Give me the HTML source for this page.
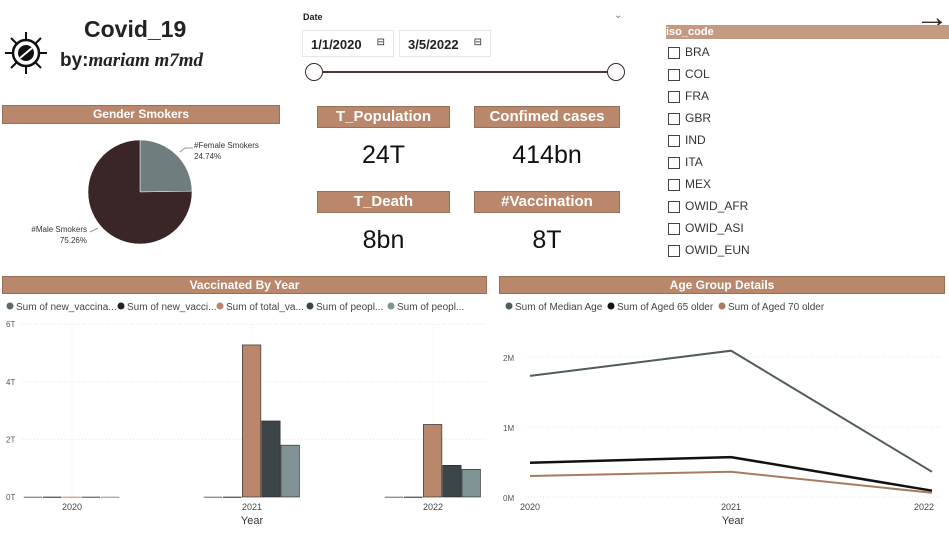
<!DOCTYPE html>
<html><head><meta charset="utf-8"><style>
body{margin:0;width:949px;height:535px;background:#fff;position:relative;overflow:hidden;font-family:"Liberation Sans",sans-serif;color:#222}
.a{position:absolute}
.hdr{position:absolute;background:#b9876b;color:#fff;font-weight:bold;text-align:center;border:1px solid #9a6f57;box-sizing:border-box}
.kpi{font-size:25px;text-align:center;color:#111}
.cb{position:absolute;left:668px;width:10px;height:10px;border:1px solid #444}
.cl{position:absolute;left:685px;font-size:12px;color:#333}
.dt{position:absolute;top:30px;height:27px;border:1px solid #e6e6e6;box-sizing:border-box;font-size:13px;font-weight:bold;padding:6px 8px}
</style></head><body>
<svg class="a" style="left:3px;top:30px" width="46" height="46" viewBox="0 0 46 46">
<g stroke="#111" stroke-width="2.5" fill="none"><circle cx="23" cy="23" r="13"/>
<g stroke-width="2"><line x1="23" y1="2" x2="23" y2="10"/><line x1="23" y1="36" x2="23" y2="44"/><line x1="2" y1="23" x2="10" y2="23"/><line x1="36" y1="23" x2="44" y2="23"/><line x1="8" y1="8" x2="14" y2="14"/><line x1="32" y1="32" x2="38" y2="38"/><line x1="38" y1="8" x2="32" y2="14"/><line x1="8" y1="38" x2="14" y2="32"/></g></g>
<circle cx="23" cy="23" r="8" fill="#111"/><line x1="17" y1="28" x2="29" y2="18" stroke="#fff" stroke-width="2"/></svg>
<div class="a" style="left:84px;top:16px;font-size:23px;font-weight:bold">Covid_19</div>
<div class="a" style="left:60px;top:50px;font-size:19px;font-weight:bold">by:<i style="font-family:'Liberation Serif',serif">mariam m7md</i></div>

<div class="hdr" style="left:2px;top:105px;width:278px;height:19px;font-size:12px;line-height:17px">Gender Smokers</div>
<svg class="a" style="left:0;top:130px" width="290" height="120" id="pie"></svg>

<div class="a" style="left:303px;top:12px;font-size:9px;font-weight:bold">Date</div>
<div class="a" style="left:614px;top:10px;font-size:10px;color:#777">⌄</div>
<div class="dt" style="left:302px;width:92px">1/1/2020 <span style="float:right;font-weight:normal;font-size:10px">⊟</span></div>
<div class="dt" style="left:399px;width:92px">3/5/2022 <span style="float:right;font-weight:normal;font-size:10px">⊟</span></div>
<div class="a" style="left:314px;top:71px;width:302px;height:2px;background:#4a3a36"></div>
<div class="a" style="left:305px;top:63px;width:16px;height:16px;border:1.5px solid #3a2a27;border-radius:50%;background:#fff"></div>
<div class="a" style="left:607px;top:63px;width:16px;height:16px;border:1.5px solid #3a2a27;border-radius:50%;background:#fff"></div>

<div class="hdr" style="left:317px;top:106px;width:133px;height:22px;font-size:15px;line-height:20px">T_Population</div>
<div class="a kpi" style="left:317px;top:141px;width:133px">24T</div>
<div class="hdr" style="left:474px;top:106px;width:146px;height:22px;font-size:15px;line-height:20px">Confimed cases</div>
<div class="a kpi" style="left:474px;top:141px;width:146px">414bn</div>
<div class="hdr" style="left:317px;top:191px;width:133px;height:22px;font-size:15px;line-height:20px">T_Death</div>
<div class="a kpi" style="left:317px;top:226px;width:133px">8bn</div>
<div class="hdr" style="left:474px;top:191px;width:146px;height:22px;font-size:15px;line-height:20px">#Vaccination</div>
<div class="a kpi" style="left:474px;top:226px;width:146px">8T</div>

<div class="a" style="left:915px;top:0px;font-size:34px;line-height:34px;color:#3a2a27">→</div>
<div class="a" style="left:666px;top:25px;width:283px;height:14px;background:#c49a83;color:#fff;font-size:11px;font-weight:bold;line-height:14px">iso_code</div>
<div id="iso"></div>

<div class="hdr" style="left:2px;top:276px;width:485px;height:18px;font-size:12px;line-height:16px">Vaccinated By Year</div>
<svg class="a" style="left:0;top:296px" width="490" height="239" id="bar"></svg>
<div class="hdr" style="left:499px;top:276px;width:446px;height:18px;font-size:12px;line-height:16px">Age Group Details</div>
<svg class="a" style="left:495px;top:296px" width="454" height="239" id="line"></svg>

<script>
const NS="http://www.w3.org/2000/svg";
function mk(p,t,a,txt){const e=document.createElementNS(NS,t);for(const k in a)e.setAttribute(k,a[k]);if(txt!=null)e.textContent=txt;p.appendChild(e);return e;}

// iso list
const isoCodes=["BRA","COL","FRA","GBR","IND","ITA","MEX","OWID_AFR","OWID_ASI","OWID_EUN"];
const iso=document.getElementById('iso');
isoCodes.forEach((c,i)=>{const y=47+i*22;
 const b=document.createElement('div');b.className='cb';b.style.top=y+'px';
 
 iso.appendChild(b);
 const l=document.createElement('div');l.className='cl';l.style.top=(y-2)+'px';l.textContent=c;
 
 iso.appendChild(l);});

// pie
const pieLabels=["#Female Smokers","#Male Smokers"];
const pieValues=[24.74,75.26];
const pieColors=["#6f7d7e","#3a2627"];
const pie=document.getElementById('pie');
{const cx=140,cy=62,r=52;let a0=-Math.PI/2;const tot=pieValues.reduce((s,v)=>s+v,0);
 pieValues.forEach((v,i)=>{const a1=a0+v/tot*2*Math.PI;const lg=(a1-a0)>Math.PI?1:0;
  const p=mk(pie,'path',{d:`M${cx},${cy}L${cx+r*Math.cos(a0)},${cy+r*Math.sin(a0)}A${r},${r} 0 ${lg} 1 ${cx+r*Math.cos(a1)},${cy+r*Math.sin(a1)}Z`,fill:pieColors[i],stroke:'#fff','stroke-width':0.5});
  
  
  a0=a1;});
 mk(pie,'path',{d:'M180,22 L185,18 L193,18',stroke:'#999',fill:'none'});
 mk(pie,'text',{x:194,y:18,'font-size':8,fill:'#333'},pieLabels[0]);
 mk(pie,'text',{x:194,y:29,'font-size':8,fill:'#333'},pieValues[0].toFixed(2)+'%');
 mk(pie,'path',{d:'M90,102 L98,98',stroke:'#999',fill:'none'});
 mk(pie,'text',{x:87,y:102,'font-size':8,fill:'#333','text-anchor':'end'},pieLabels[1]);
 mk(pie,'text',{x:87,y:113,'font-size':8,fill:'#333','text-anchor':'end'},pieValues[1].toFixed(2)+'%');
}

// bar chart
const years=["2020","2021","2022"];
const barSeries=["Sum of new_vaccina...","Sum of new_vacci...","Sum of total_va...","Sum of peopl...","Sum of peopl..."];
const barColors=["#5d6a6b","#222","#b9876b","#3c4548","#7f9294"];
const s1=[0.01,0.01,0.01];
const s2=[0.01,0.01,0.01];
const s3=[0.01,5.28,2.52];
const s4=[0.01,2.64,1.1];
const s5=[0.01,1.8,0.96];
const barData=[s1,s2,s3,s4,s5];
const barTicks=[0,2,4,6];
{const svg=document.getElementById('bar');
 const y=v=>201-v*28.8; const xc=[72,252,433]; const bw=19.3;
 let lx=6;barSeries.forEach((s,i)=>{mk(svg,'circle',{cx:lx+4,cy:10,r:3.5,fill:barColors[i]});const t=mk(svg,'text',{x:lx+10,y:14,'font-size':10,fill:'#444'},s);lx+=[111,99,90,81,90][i];});
 barTicks.forEach(t=>{mk(svg,'text',{x:6,y:y(t)+3,'font-size':8,fill:'#555'},t+'T');
  if(t>0)mk(svg,'line',{x1:22,x2:486,y1:y(t),y2:y(t),stroke:'#e4e4e4','stroke-dasharray':'1,2'});});
 years.forEach((yr,g)=>{mk(svg,'line',{x1:xc[g],x2:xc[g],y1:y(6),y2:y(0),stroke:'#eee','stroke-dasharray':'1,2'});
  barData.forEach((ser,i)=>{const x0=xc[g]-2.5*bw+i*bw;const r=mk(svg,'rect',{x:x0,y:y(ser[g]),width:bw-0.8,height:Math.max(1,y(0)-y(ser[g])),fill:barColors[i],stroke:'#222','stroke-width':ser[g]>0.1?0.6:0});
   
   });
  mk(svg,'text',{x:xc[g],y:214,'font-size':9,fill:'#444','text-anchor':'middle'},yr);});
 mk(svg,'text',{x:252,y:228,'font-size':11,fill:'#333','text-anchor':'middle'},'Year');
}

// line chart
const lineSeries=["Sum of Median Age","Sum of Aged 65 older","Sum of Aged 70 older"];
const lineColors=["#4f5b5c","#111","#a97a62"];
const medianAge=[1.73,2.09,0.36];
const aged65=[0.49,0.57,0.09];
const aged70=[0.30,0.36,0.06];
const lineData=[medianAge,aged65,aged70];
const lineTicks=[0,1,2];
{const svg=document.getElementById('line');
 const y=v=>201-v*70; const x=i=>35+i*201;
 let lx=10;lineSeries.forEach((s,i)=>{mk(svg,'circle',{cx:lx+4,cy:10,r:3.5,fill:lineColors[i]});mk(svg,'text',{x:lx+10,y:14,'font-size':10,fill:'#444'},s);lx+=[102,111,110][i];});
 lineTicks.forEach(t=>{mk(svg,'text',{x:8,y:y(t)+4,'font-size':8,fill:'#555'},t+'M');
  mk(svg,'line',{x1:30,x2:445,y1:y(t),y2:y(t),stroke:'#e4e4e4','stroke-dasharray':'1,2'});});
 years.forEach((yr,i)=>{mk(svg,'text',{x:x(i)-(i==2?8:0),y:214,'font-size':9,fill:'#444','text-anchor':'middle'},yr);});
 mk(svg,'text',{x:238,y:228,'font-size':11,fill:'#333','text-anchor':'middle'},'Year');
 lineData.forEach((d,k)=>{const p=mk(svg,'polyline',{points:d.map((v,i)=>x(i)+','+y(v)).join(' '),fill:'none',stroke:lineColors[k],'stroke-width':k==1?2.5:2});
  
  });
}
</script>
</body></html>
